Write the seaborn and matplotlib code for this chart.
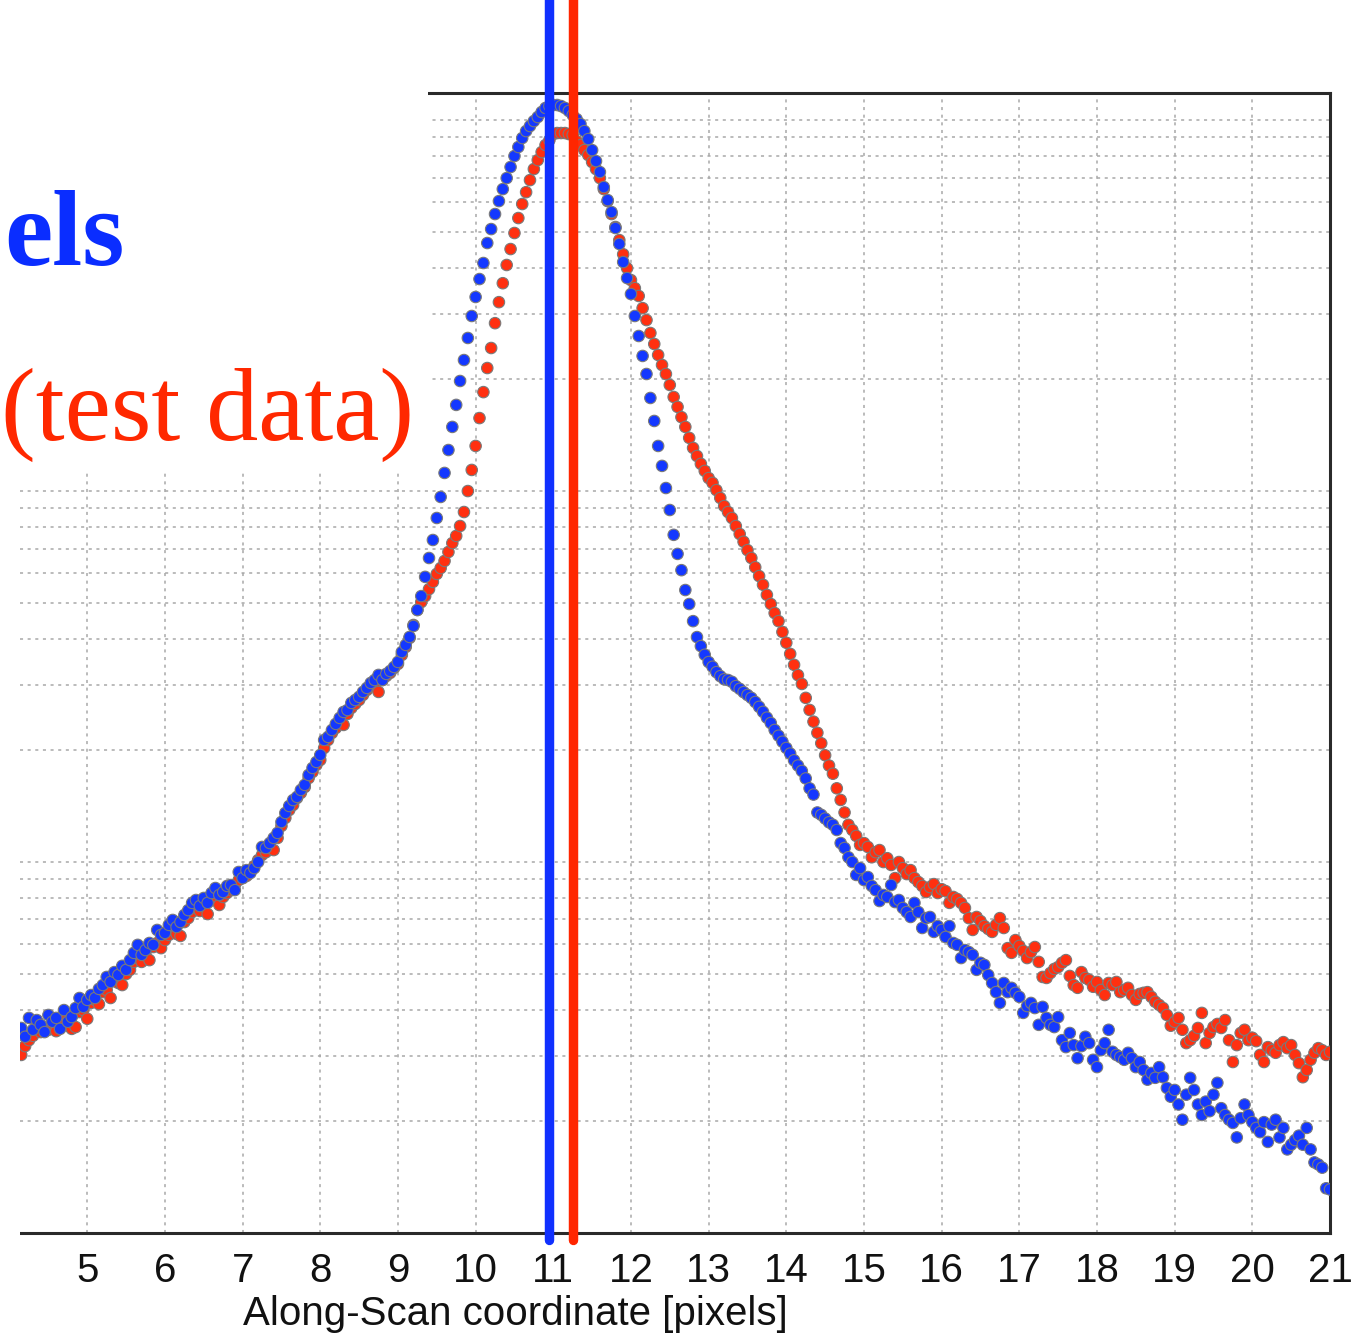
import numpy as np
import pandas as pd
import matplotlib
matplotlib.use("Agg")
import matplotlib.pyplot as plt
from matplotlib.patches import Rectangle
from matplotlib.ticker import LogLocator, NullFormatter
import seaborn as sns

# Along-scan sampling of the line-spread profiles (pixels)
sample_start = 4.15
sample_step = 0.05

# Model profile (blue) — flux per sample
model_flux = [
    3.57, 3.38, 3.80, 3.53, 3.75, 3.64, 3.48, 3.87, 3.71, 3.80,
    3.55, 3.99, 3.71, 3.82, 4.04, 4.30, 4.07, 4.25, 4.38, 4.30,
    4.55, 4.66, 4.90, 4.75, 5.05, 4.96, 5.25, 5.12, 5.44, 5.69,
    5.98, 5.62, 5.79, 6.05, 5.98, 6.56, 6.36, 6.44, 6.77, 6.98,
    6.68, 6.89, 7.20, 7.42, 7.76, 7.90, 7.61, 8.00, 7.76, 8.25,
    8.51, 8.15, 8.30, 8.62, 8.67, 8.40, 9.40, 9.05, 9.51, 9.34,
    9.63, 10.0, 10.98, 10.91, 11.25, 11.61, 11.98, 12.82, 13.56, 14.16,
    14.69, 14.98, 15.64, 16.14, 17.17, 17.93, 18.61, 19.44, 21.33, 21.74,
    22.69, 23.57, 24.46, 25.38, 25.69, 26.85, 27.34, 27.87, 28.74, 29.46,
    30.39, 30.95, 31.94, 30.95, 32.14, 32.73, 33.56, 34.62, 36.83, 38.48,
    40.43, 43.28, 47.8, 52.1, 58.7, 66.0, 73.8, 84.6, 96.4, 111.9,
    129.0, 148.9, 170.7, 198.0, 225.5, 258.6, 296.4, 333.5, 372.8, 411.8,
    466.2, 508.4, 558.1, 604.8, 651.6, 697.7, 747.2, 800.0, 845.9, 894.4,
    934.0, 963.7, 993.8, 1019, 1051, 1078, 1091, 1098, 1098, 1091,
    1078, 1058, 1032, 1006, 975.7, 934.0, 888.8, 829.9, 775.3, 724.3,
    659.9, 608.5, 565.0, 511.7, 463.4, 414.3, 375.1, 339.7, 296.4, 261.8,
    231.3, 206.8, 178.2, 154.5, 132.3, 116.9, 101.9, 88.9, 76.2, 67.7,
    61.2, 54.1, 49.6, 44.6, 40.4, 38.2, 36.2, 34.6, 33.6, 32.5,
    31.7, 31.1, 30.95, 30.6, 29.8, 29.3, 28.7, 28.2, 27.7, 27.0,
    26.2, 25.4, 24.5, 23.7, 22.7, 21.9, 21.1, 20.3, 19.6, 18.8,
    18.2, 17.6, 16.8, 15.8, 15.2, 13.6, 13.4, 13.1, 12.8, 12.6,
    12.2, 11.25, 10.91, 10.30, 10.00, 9.23, 9.63, 8.94, 9.11, 8.62,
    8.40, 7.85, 8.15, 8.05, 8.67, 7.80, 7.90, 7.52, 7.33, 7.11,
    7.76, 7.33, 6.64, 7.06, 7.11, 6.48, 6.72, 6.56, 6.28, 6.72,
    6.05, 5.98, 5.51, 5.79, 5.72, 5.62, 5.12, 5.35, 5.28, 4.96,
    4.72, 4.46, 4.17, 4.72, 4.46, 4.58, 4.44, 4.33, 3.92, 4.09,
    4.17, 4.04, 3.64, 4.07, 3.80, 3.64, 3.59, 3.82, 3.31, 3.17,
    3.46, 3.21, 2.96, 3.19, 3.38, 3.25, 2.93, 2.80, 3.11, 3.25,
    3.53, 3.08, 3.02, 2.98, 2.93, 3.06, 2.96, 2.80, 2.89, 2.75,
    2.59, 2.70, 2.62, 2.80, 2.63, 2.46, 2.33, 2.43, 2.22, 2.02,
    2.36, 2.62, 2.43, 2.22, 2.08, 2.26, 2.13, 2.36, 2.54, 2.17,
    2.08, 2.02, 1.98, 1.81, 2.04, 2.22, 2.08, 1.99, 1.92, 1.87,
    1.99, 1.76, 1.96, 2.02, 1.81, 1.92, 1.68, 1.73, 1.78, 1.83,
    1.73, 1.92, 1.68, 1.55, 1.53, 1.50, 1.32, 1.31,
]

# Test-data profile (red) — flux per sample
test_flux = [
    3.02, 3.19, 3.31, 3.40, 3.64, 3.48, 3.57, 3.53, 3.66, 3.50,
    3.59, 3.75, 3.62, 3.55, 3.59, 3.94, 3.99, 3.78, 4.17, 4.25,
    4.14, 4.46, 4.52, 4.30, 4.78, 4.72, 4.66, 4.99, 5.12, 5.38,
    5.51, 5.38, 5.62, 5.44, 5.90, 6.05, 5.86, 6.16, 6.36, 6.56,
    6.40, 6.32, 6.89, 7.06, 7.33, 7.52, 7.38, 7.61, 7.24, 7.90,
    8.00, 7.66, 8.05, 8.25, 8.40, 8.67, 8.94, 9.05, 9.17, 9.40,
    9.75, 10.12, 10.45, 10.63, 10.91, 10.77, 11.61, 12.51, 13.15, 13.81,
    14.25, 14.88, 15.36, 15.93, 16.84, 17.49, 18.27, 18.84, 20.30, 21.33,
    22.28, 22.98, 23.86, 23.42, 25.07, 26.02, 26.68, 27.34, 28.22, 29.09,
    29.83, 30.21, 28.74, 30.95, 31.74, 32.34, 33.35, 34.20, 36.16, 38.00,
    40.18, 43.55, 47.8, 50.2, 52.1, 54.4, 56.9, 59.8, 62.0, 64.8,
    68.5, 72.4, 75.7, 80.5, 87.8, 100.0, 114.0, 132.3, 157.3, 184.8,
    214.6, 243.0, 283.5, 323.0, 363.3, 406.8, 449.1, 496.1, 544.4, 593.9,
    639.2, 688.9, 737.8, 780.0, 819.9, 856.5, 883.1, 917.0, 922.7, 922.7,
    922.7, 917.0, 911.3, 877.8, 856.5, 829.9, 805.0, 770.6, 737.8, 697.7,
    651.6, 604.8, 558.1, 514.9, 474.8, 434.8, 398.8, 370.4, 352.3, 335.6,
    311.2, 289.0, 266.7, 249.1, 232.7, 218.7, 206.8, 193.2, 179.3, 168.6,
    158.2, 148.9, 139.1, 130.7, 124.3, 118.4, 113.3, 108.4, 105.2, 100.6,
    95.8, 91.1, 87.8, 84.6, 80.5, 76.6, 73.0, 69.3, 66.0, 62.3,
    59.0, 55.9, 52.5, 49.6, 46.9, 44.6, 41.7, 39.0, 36.4, 34.0,
    31.9, 30.2, 27.7, 25.7, 23.9, 22.3, 20.9, 19.4, 18.2, 17.3,
    15.8, 14.7, 13.6, 12.6, 12.2, 11.76, 11.12, 11.25, 10.98, 10.30,
    10.63, 10.77, 10.00, 10.24, 9.82, 9.05, 10.00, 9.63, 9.28, 9.51,
    9.05, 8.83, 8.62, 8.30, 8.56, 8.72, 8.25, 8.45, 8.35, 7.76,
    8.05, 7.95, 7.76, 7.52, 7.06, 6.56, 7.11, 6.93, 6.72, 6.60,
    6.48, 6.77, 7.06, 6.64, 5.86, 5.69, 6.16, 5.94, 5.76, 5.51,
    5.72, 5.90, 5.38, 4.90, 4.87, 5.02, 5.15, 5.21, 5.35, 5.44,
    4.93, 4.66, 4.58, 5.05, 4.87, 4.81, 4.61, 4.75, 4.52, 4.38,
    4.72, 4.66, 4.75, 4.46, 4.52, 4.58, 4.38, 4.25, 4.41, 4.44,
    4.46, 4.33, 4.20, 4.12, 4.04, 3.87, 3.62, 3.71, 3.80, 3.53,
    3.25, 3.31, 3.40, 3.57, 3.92, 3.25, 3.46, 3.59, 3.66, 3.57,
    3.75, 3.31, 2.89, 3.21, 3.46, 3.53, 3.31, 3.36, 3.29, 3.02,
    2.89, 3.17, 3.11, 3.06, 3.21, 3.27, 3.15, 3.21, 3.02, 2.87,
    2.63, 2.75, 2.93, 3.06, 3.15, 3.11, 3.02, 3.08,
]

# Profile centroids (pixels)
model_centroid = 10.95
test_centroid = 11.26

x_ticks = list(range(5, 22))
x_label = "Along-Scan coordinate [pixels]"
model_caption = "els"
test_caption = "(test data)"

BLUE_DOT = "#1438ff"
RED_DOT = "#ff3010"
BLUE_LINE = "#1030ff"
RED_LINE = "#ff2600"

coords = np.round(sample_start + sample_step * np.arange(len(model_flux)), 2)
df = pd.concat([
    pd.DataFrame({"coord": coords, "flux": test_flux, "series": "test"}),
    pd.DataFrame({"coord": coords, "flux": model_flux, "series": "model"}),
], ignore_index=True)

sns.set_style("white")
plt.rcParams["font.family"] = ["Liberation Sans", "DejaVu Sans"]

W, H = 1353, 1333
fig = plt.figure(figsize=(W / 100, H / 100), dpi=100)
ax = fig.add_axes([20 / W, 1 - 1233 / H, 1310 / W, 1140 / H])

sns.scatterplot(
    data=df, x="coord", y="flux", hue="series",
    palette={"test": RED_DOT, "model": BLUE_DOT},
    s=68, edgecolor="#7a7a7a", linewidth=0.8, legend=False, ax=ax, zorder=3,
)

ax.set_yscale("log")
ax.set_xlim(4.134, 21.0)
ax.set_ylim(1, 1183)

ax.set_xticks(x_ticks)
ax.set_xticklabels([str(t) for t in x_ticks])
ax.yaxis.set_major_locator(LogLocator(base=10))
ax.yaxis.set_minor_locator(LogLocator(base=10, subs=np.arange(2, 10)))
ax.yaxis.set_minor_formatter(NullFormatter())
ax.tick_params(axis="y", which="both", left=False, right=False, labelleft=False)
ax.tick_params(axis="x", which="major", direction="out", length=8, width=1.8,
               color="#222222", labelsize=29, pad=6, labelcolor="#111111",
               top=False)

grid_kw = dict(color="#a8a8a8", linestyle=(0, (2, 3)), linewidth=1.1)
ax.grid(axis="x", which="major", **grid_kw)
ax.grid(axis="y", which="both", **grid_kw)
ax.set_axisbelow(True)

ax.spines["left"].set_visible(False)
for side in ("top", "right", "bottom"):
    ax.spines[side].set_color("#2a2a2a")
    ax.spines[side].set_linewidth(2.2)

ax.set_xlabel(x_label, fontsize=29, color="#111111")
ax.set_ylabel("")
ax.xaxis.set_label_coords(0.378, -0.054)

# Centroid markers running from the baseline to the top of the page
for xc, col in ((model_centroid, BLUE_LINE), (test_centroid, RED_LINE)):
    ax.axvline(xc, ymin=-0.006, ymax=1.09, color=col, linewidth=6.8,
               clip_on=False, zorder=6)

# Caption panel over the upper-left corner
fig.add_artist(Rectangle((0, 1 - 471 / H), 428 / W, 471 / H,
                         transform=fig.transFigure, facecolor="white",
                         edgecolor="none", zorder=10))
fig.add_artist(Rectangle((0, 0), 20 / W, 1, transform=fig.transFigure,
                         facecolor="white", edgecolor="none", zorder=10))
fig.text(125 / W, 1 - 265 / H, model_caption, ha="right", va="baseline",
         color="#0a2dff", fontsize=78, fontweight="bold",
         family=["Liberation Serif", "DejaVu Serif"], zorder=11)
fig.text(1 / W, 1 - 440 / H, test_caption, ha="left", va="baseline",
         color="#ff2800", fontsize=75,
         family=["Liberation Serif", "DejaVu Serif"], zorder=11)

fig.savefig("out.png", dpi=100, facecolor="white")
